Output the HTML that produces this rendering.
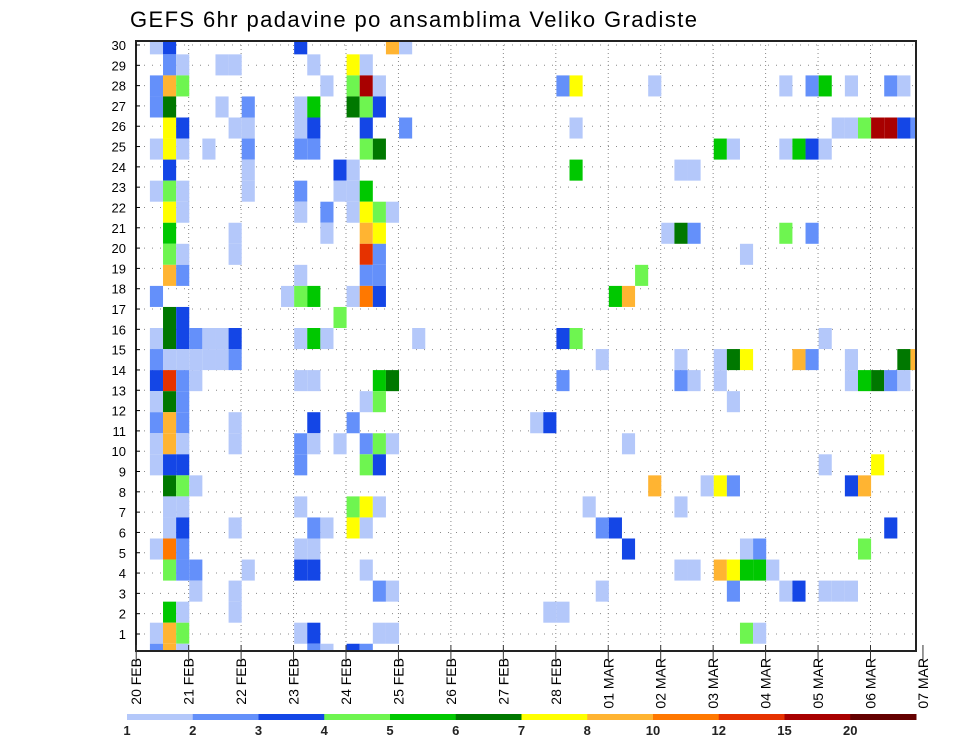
<!DOCTYPE html>
<html><head><meta charset="utf-8">
<style>
html,body{margin:0;padding:0;background:#fff;}
svg{display:block;font-family:"Liberation Sans",sans-serif;}
</style></head>
<body>
<svg id="chart" width="960" height="742" viewBox="0 0 960 742" xmlns="http://www.w3.org/2000/svg">
<text x="130" y="27" font-size="22" letter-spacing="1.4" fill="#000">GEFS 6hr padavine po ansamblima Veliko Gradiste</text>
<defs><clipPath id="plotclip"><rect x="136" y="41" width="780" height="610"/></clipPath></defs>
<g id="grid"></g>
<g id="cells" clip-path="url(#plotclip)"></g>
<rect x="136" y="41" width="780" height="610" fill="none" stroke="#222" stroke-width="2"/>
<g id="yaxis"></g>
<g id="xaxis"></g>
<g id="legend"></g>
</svg>
<script>
// ---- data ----
const dayLabels = ["20 FEB","21 FEB","22 FEB","23 FEB","24 FEB","25 FEB","26 FEB","27 FEB","28 FEB","01 MAR","02 MAR","03 MAR","04 MAR","05 MAR","06 MAR","07 MAR"];
const memberTicks = [1,2,3,4,5,6,7,8,9,10,11,12,13,14,15,16,17,18,19,20,21,22,23,24,25,26,27,28,29,30];
const levelBounds = [1,2,3,4,5,6,7,8,10,12,15,20];
const levelLabels = ["1","2","3","4","5","6","7","8","10","12","15","20"];
const levelColors = ["#b4c8fa","#6490fa","#1446e6","#6ef550","#00c800","#007800","#ffff00","#ffb432","#ff7800","#e63200","#a80000","#640000"];
// representative precip (mm) per code
const codeValue = {"1":1.5,"2":2.5,"3":3.5,"4":4.5,"5":5.5,"6":6.5,"7":7.5,"8":9,"9":11,"a":13,"b":17,"c":25};
// member rows, top (30) to bottom (1): "step:code"
const memberRows = [
 [30,"1:1 2:3 12:3 19:8 20:1"],
 [29,"2:2 3:1 6:1 7:1 13:1 16:7 17:1"],
 [28,"1:2 2:8 3:4 14:1 16:4 17:b 18:1 32:2 33:7 39:1 49:1 51:2 52:5 54:1 57:2 58:1"],
 [27,"1:2 2:6 6:1 8:2 12:1 13:5 16:6 17:4 18:3"],
 [26,"2:7 3:3 7:1 8:1 12:1 13:3 17:3 20:2 33:1 53:1 54:1 55:4 56:b 57:b 58:3 59:2"],
 [25,"1:1 2:7 3:1 5:1 8:2 12:2 13:2 17:4 18:6 44:5 45:1 49:1 50:5 51:3 52:1"],
 [24,"2:3 8:1 15:3 16:1 33:5 41:1 42:1"],
 [23,"1:1 2:4 3:1 8:1 12:2 15:1 16:1 17:5"],
 [22,"2:7 3:1 12:1 14:2 16:1 17:7 18:4 19:1"],
 [21,"2:5 7:1 14:1 17:8 18:7 40:1 41:6 42:2 49:4 51:2"],
 [20,"2:4 3:1 7:1 17:a 18:2 46:1"],
 [19,"2:8 3:2 12:1 17:2 18:2 38:4"],
 [18,"1:2 11:1 12:4 13:5 16:1 17:9 18:3 36:5 37:8"],
 [17,"2:6 3:3 15:4"],
 [16,"1:1 2:6 3:3 4:2 5:1 6:1 7:3 12:1 13:5 14:1 21:1 32:3 33:4 52:1"],
 [15,"1:2 2:1 3:1 4:1 5:1 6:1 7:2 35:1 41:1 44:1 45:6 46:7 50:8 51:2 54:1 58:6 59:8"],
 [14,"1:3 2:a 3:2 4:1 12:1 13:1 18:5 19:6 32:2 41:2 42:1 44:1 54:1 55:5 56:6 57:2 58:1"],
 [13,"1:1 2:6 3:2 17:1 18:4 45:1"],
 [12,"1:2 2:8 3:2 7:1 13:3 16:2 30:1 31:3"],
 [11,"1:1 2:8 3:1 7:1 12:2 13:1 15:1 17:2 18:4 19:1 37:1"],
 [10,"1:1 2:3 3:3 12:2 17:4 18:3 52:1 56:7"],
 [9,"2:6 3:4 4:1 39:8 43:1 44:7 45:2 54:3 55:8"],
 [8,"2:1 3:1 12:1 16:4 17:7 18:1 34:1 41:1"],
 [7,"2:1 3:3 7:1 13:2 14:1 16:7 17:1 35:2 36:3 57:3"],
 [6,"1:1 2:9 3:2 12:1 13:1 37:3 46:1 47:2 55:4"],
 [5,"2:4 3:2 4:2 8:1 12:3 13:3 17:1 41:1 42:1 44:8 45:7 46:5 47:5 48:1"],
 [4,"4:1 7:1 18:2 19:1 35:1 45:2 49:1 50:3 52:1 53:1 54:1"],
 [3,"2:5 3:1 7:1 31:1 32:1"],
 [2,"1:1 2:8 3:4 12:1 13:3 18:1 19:1 46:4 47:1"],
 [1,"1:2 2:8 3:1 13:2 14:1 16:3 17:2"]
];
// ---- scales ----
const NS="http://www.w3.org/2000/svg";
const X0=136.2, DAYW=52.45, STEPW=DAYW/4;
function xDay(d){return X0+d*DAYW;}
function xStep(s){return X0+s*STEPW+0.6;}
function yCell(m){return 33.3+(30-m)*21.05;}
const CELLH=21.05;
function yTick(m){return 45+(30-m)*20.31;}
function colorFor(v){let k=-1;for(let i=0;i<levelBounds.length;i++){if(v>=levelBounds[i])k=i;}return k<0?null:levelColors[k];}
function mk(tag,attrs,parent){const e=document.createElementNS(NS,tag);for(const k in attrs)e.setAttribute(k,attrs[k]);parent.appendChild(e);return e;}
// ---- grid ----
const grid=document.getElementById('grid');
for(let d=1;d<dayLabels.length-1;d++){
 const l=mk('line',{x1:xDay(d),x2:xDay(d),y1:41,y2:651,stroke:"#888","stroke-width":1,"stroke-dasharray":"1,3"},grid);
 
 
}
memberTicks.forEach(m=>{
 const l=mk('line',{x1:136,x2:916,y1:yTick(m),y2:yTick(m),stroke:"#888","stroke-width":1,"stroke-dasharray":"1,7"},grid);
 
 
});
// ---- cells ----
const cells=document.getElementById('cells');
memberRows.forEach(([m,spec])=>{
 spec.split(' ').forEach(tok=>{
  const [s,c]=tok.split(':');const step=+s;const v=codeValue[c];
  const col=colorFor(v);if(!col)return;
  const r=mk('rect',{x:xStep(step),y:yCell(m),width:STEPW,height:CELLH,fill:col},cells);
  
  
 });
});
// ---- y axis ----
const ya=document.getElementById('yaxis');
memberTicks.forEach(m=>{
 const t=mk('text',{x:126,y:yTick(m)+5,"font-size":13,"text-anchor":"end",fill:"#000"},ya);
 t.textContent=m;
 
 
 const tk=mk('line',{x1:136,x2:140,y1:yTick(m),y2:yTick(m),stroke:"#000"},ya);
 
 
});
// ---- x axis ----
const xa=document.getElementById('xaxis');
dayLabels.forEach((lab,d)=>{
 const x=xDay(d);
 const tk=mk('line',{x1:x,x2:x,y1:645,y2:661,stroke:"#333"},xa);
 
 
 const t=mk('text',{x:0,y:0,"font-size":14,"text-anchor":"end",fill:"#000",transform:"translate("+(x+5)+",658) rotate(-90)"},xa);
 t.textContent=lab;
 
 
});
// ---- colorbar ----
const lg=document.getElementById('legend');
const CB0=127, CBW=(916-127)/levelColors.length;
levelColors.forEach((c,i)=>{
 const r=mk('rect',{x:CB0+i*CBW,y:714,width:CBW+0.5,height:6,fill:c},lg);
 
 
 const t=mk('text',{x:CB0+i*CBW,y:735,"font-size":13,"font-weight":"bold","text-anchor":"middle",fill:"#222"},lg);
 t.textContent=levelLabels[i];
 
 
});
</script>
</body></html>
